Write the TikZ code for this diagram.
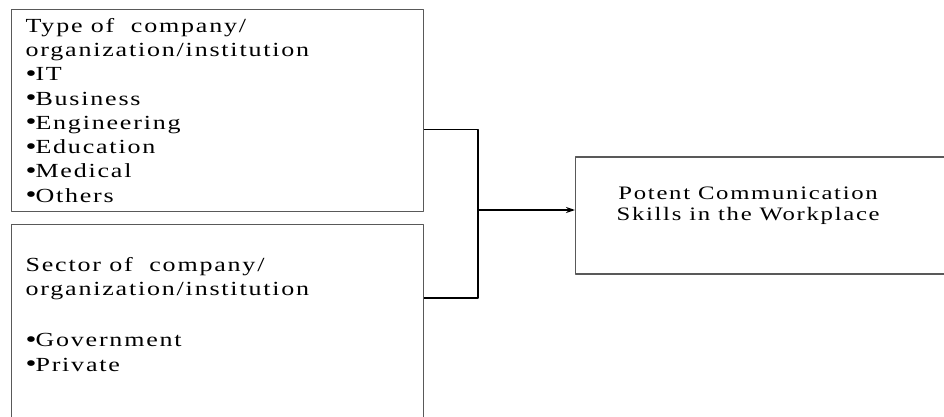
\documentclass[tikz,border=0pt]{standalone}
\usepackage{fontspec}
\setmainfont{Liberation Serif}[FakeStretch=1.3, LetterSpace=9]
\usetikzlibrary{arrows.meta}
\newcommand{\bul}{\raisebox{-0.5pt}{\fontsize{24}{24}\selectfont\textbullet}\hspace{-1pt}}
\begin{document}
\begin{tikzpicture}[x=1pt, y=-1pt, line join=round, >={Stealth[length=9pt,width=6pt]},
		font=\fontsize{20}{24.3}\selectfont,
		box/.style={draw=black!65, line width=1.2pt, anchor=north west, inner xsep=14pt, inner ysep=4pt},
		link/.style={draw, line width=1.6pt}]
			\useasboundingbox (0,0) rectangle (944,417);
			\node[box] (type) at (11,9) {\parbox[t][194pt][t]{384pt}{\vspace*{4.5pt}Type of\ \ company/\\organization/institution\\\bul IT\\\bul Business\\\bul Engineering\\\bul Education\\\bul Medical\\\bul Others}};
			\node[box] (sector) at (11,224) {\parbox[t][210pt][t]{384pt}{\vspace*{29pt}Sector\ of\ \ company/\\organization/institution\\[26.5pt]\bul Government\\\bul Private}};
			\node[box, minimum width=385pt, minimum height=117pt, anchor=west, font=\fontsize{19}{21.5}\selectfont] (skills) at (575,215.5) {\begin{tabular}{@{}c@{}}Potent Communication\\Skills\ in the Workplace\\[20pt]\end{tabular}\kern40pt};
			\coordinate (join) at (478,210);
			\draw[link] ([yshift=-19pt]type.east) -| (join) |- ([yshift=-74pt]sector.north east);
			\draw[link,->] (join) -- ([yshift=5.5pt]skills.west);
		\end{tikzpicture}
\end{document}
